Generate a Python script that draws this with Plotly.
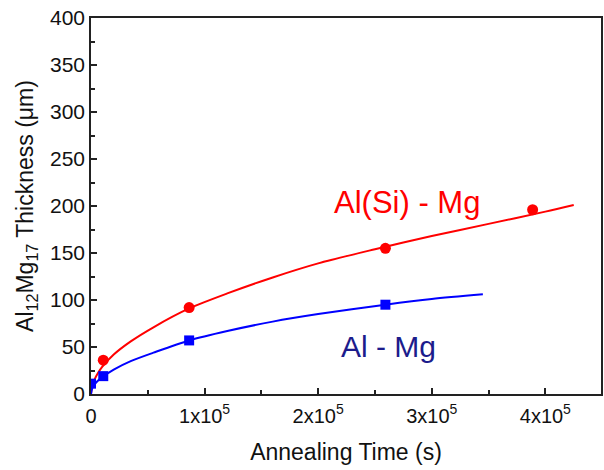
import plotly.graph_objects as go

# measured data points
t_alsi = [10800, 86400, 259200, 388800]
thk_alsi = [36, 92, 155, 196]
t_al = [0, 10800, 86400, 259200]
thk_al = [11, 19, 57, 95]

# fitted curves
t_fit_alsi = [0, 1000, 3000, 6000, 10000, 20000, 35000, 55000, 86400, 120000,
              160000, 200000, 250000, 300000, 350000, 400000, 425000]
thk_fit_alsi = [0, 8, 15, 22, 29, 42, 56, 71, 91, 107, 124, 139, 154, 168, 181, 194, 201]
t_fit_al = [0, 1000, 3000, 6000, 10000, 20000, 35000, 55000, 86400, 120000,
            160000, 200000, 259200, 300000, 345000]
thk_fit_al = [0, 6, 10, 14, 18, 26, 35, 44, 57, 67, 77, 85, 95, 101, 106]

x_tickvals = [0, 100000, 200000, 300000, 400000]
x_ticktext = ["0", "1x10<sup>5</sup>", "2x10<sup>5</sup>", "3x10<sup>5</sup>", "4x10<sup>5</sup>"]
y_tickvals = [0, 50, 100, 150, 200, 250, 300, 350, 400]

RED = "#ff0000"
BLUE = "#0000ff"
FONT = "Arial, Liberation Sans, sans-serif"

fig = go.Figure()
fig.add_trace(go.Scatter(x=t_fit_alsi, y=thk_fit_alsi, mode="lines",
                         line=dict(color=RED, width=2, shape="spline", smoothing=0.8),
                         showlegend=False))
fig.add_trace(go.Scatter(x=t_fit_al, y=thk_fit_al, mode="lines",
                         line=dict(color=BLUE, width=2, shape="spline", smoothing=0.8),
                         showlegend=False))
fig.add_trace(go.Scatter(x=t_alsi, y=thk_alsi, mode="markers",
                         marker=dict(color=RED, size=11, symbol="circle"), showlegend=False))
fig.add_trace(go.Scatter(x=t_al, y=thk_al, mode="markers",
                         marker=dict(color=BLUE, size=10, symbol="square"), showlegend=False))

fig.add_annotation(x=0.62, y=204, xref="paper", yref="y", text="Al(Si) - Mg",
                   showarrow=False, font=dict(family=FONT, size=31, color=RED))
fig.add_annotation(x=0.583, y=51, xref="paper", yref="y", text="Al - Mg",
                   showarrow=False, font=dict(family=FONT, size=30, color="#1c1c8c"))

fig.update_layout(
    width=604, height=470,
    margin=dict(l=91, r=1, t=18, b=76),
    paper_bgcolor="white", plot_bgcolor="white",
    font=dict(family=FONT, size=20, color="#111111"),
    xaxis=dict(range=[0, 449000], tickvals=x_tickvals, ticktext=x_ticktext,
               ticks="inside", ticklen=6, tickwidth=1.5, tickcolor="#222",
               minor=dict(tickvals=[50000, 150000, 250000, 350000], ticks="inside",
                          ticklen=4, tickwidth=1.5, tickcolor="#222"),
               showline=True, linecolor="#222", linewidth=1.5, mirror=True,
               showgrid=False, zeroline=False, ticklabelstandoff=3,
               tickfont=dict(size=20),
               title=dict(text="Annealing Time (s)", font=dict(size=23), standoff=18)),
    yaxis=dict(range=[0, 400], tickvals=y_tickvals,
               ticks="inside", ticklen=6, tickwidth=1.5, tickcolor="#222",
               minor=dict(dtick=25, tick0=25, ticks="inside", ticklen=4,
                          tickwidth=1.5, tickcolor="#222"),
               showline=True, linecolor="#222", linewidth=1.5, mirror=True,
               showgrid=False, zeroline=False,
               tickfont=dict(size=21),
               title=dict(text="Al<sub>12</sub>Mg<sub>17</sub> Thickness (\u03bcm)",
                          font=dict(size=23), standoff=10)),
)

fig.write_html("out.html")
